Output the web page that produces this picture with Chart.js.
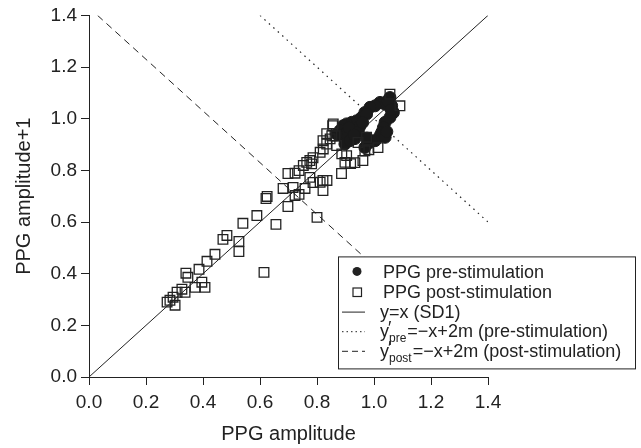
<!DOCTYPE html>
<html>
<head>
<meta charset="utf-8">
<script src="https://cdn.jsdelivr.net/npm/chart.js@4.4.1/dist/chart.umd.min.js"></script>
<style>
    html, body { margin: 0; padding: 0; background: #fff; }
    #wrap { width: 641px; height: 448px; }
</style>
</head>
<body>
<div id="wrap"><canvas id="poincare" width="641" height="448"></canvas></div>
<script>
// PPG pre-stimulation points (x = amplitude, y = amplitude+1)
var preX = [1.056, 1.039, 1.021, 1.004, 0.986, 0.968, 0.957, 0.939, 0.922, 0.904, 0.892, 0.881, 0.904, 0.922, 0.887,
    0.898, 1.062, 1.068, 1.056, 1.039, 1.033, 1.027, 1.021, 1.004, 0.986, 0.974, 1.039, 0.869, 0.933, 0.990,
    0.968, 0.950, 1.048, 0.916, 0.945, 0.960, 1.060, 1.045, 0.912, 0.930, 0.975]
var preY = [1.082, 1.056, 1.063, 1.050, 1.044, 1.024, 1.005, 0.992, 0.986, 0.980, 0.973, 0.954, 0.947, 0.954, 0.934,
    0.902, 1.050, 1.024, 1.005, 0.986, 0.966, 0.947, 0.934, 0.915, 0.908, 1.018, 0.928, 0.941, 0.923, 0.915,
    0.889, 0.970, 1.070, 0.915, 0.950, 0.985, 1.035, 0.950, 0.965, 0.938, 0.925]

// PPG post-stimulation points
var postX = [0.274, 0.284, 0.295, 0.302, 0.309, 0.326, 0.337, 0.340, 0.347, 0.372, 0.396, 0.407, 0.386, 0.414,
    0.442, 0.470, 0.484, 0.526, 0.526, 0.540, 0.589, 0.621, 0.625, 0.614, 0.656, 0.698, 0.800, 0.681, 0.716,
    0.723, 0.737, 0.698, 0.723, 0.737, 0.758, 0.786, 0.775, 0.821, 0.835, 0.821, 0.811, 0.752, 0.764, 0.781,
    0.786, 0.775, 0.811, 0.822, 0.834, 0.846, 0.834, 0.855, 0.852, 0.863, 0.821, 0.886, 0.887, 0.898, 0.904,
    0.918, 0.933, 0.961, 0.982, 1.014, 0.968, 0.944, 0.974, 1.056, 1.091, 0.869, 0.857]
var postY = [0.290, 0.297, 0.309, 0.278, 0.328, 0.340, 0.328, 0.402, 0.386, 0.347, 0.367, 0.347, 0.417, 0.448,
    0.475, 0.533, 0.548, 0.525, 0.486, 0.595, 0.625, 0.691, 0.699, 0.405, 0.591, 0.660, 0.618, 0.730, 0.734,
    0.703, 0.707, 0.788, 0.789, 0.799, 0.730, 0.753, 0.773, 0.761, 0.761, 0.722, 0.754, 0.819, 0.831, 0.825,
    0.849, 0.838, 0.870, 0.883, 0.902, 0.922, 0.942, 0.973, 0.934, 0.934, 0.915, 0.788, 0.864, 0.831, 0.857,
    0.826, 0.830, 0.838, 0.880, 0.888, 0.876, 0.908, 0.928, 1.095, 1.050, 0.896, 0.980]

// reference lines: y=x, y'=-x+2m (pre), y'=-x+2m (post)
var identityX = [0, 1.4]
var identityY = [0, 1.4]
var preLineX = [0.6, 1.4]
var preLineY = [1.4, 0.6]
var postLineX = [0.03, 1.43]
var postLineY = [1.4, 0]

var ticks = [0, 0.2, 0.4, 0.6, 0.8, 1.0, 1.2, 1.4]

var legendRows = [
    { kind: 'circle', text: 'PPG pre-stimulation' },
    { kind: 'square', text: 'PPG post-stimulation' },
    { kind: 'line', dash: [], text: 'y=x (SD1)' },
    { kind: 'line', dash: [1.5, 3], text: 'y', sub: 'pre', rest: '=\u2212x+2m (pre-stimulation)' },
    { kind: 'line', dash: [6, 4], text: 'y', sub: 'post', rest: '=\u2212x+2m (post-stimulation)' }
]

var FONT = "'Liberation Sans', Arial, Helvetica, sans-serif"
var INK = '#222'

var toPoints = function (xs, ys) {
    return xs.map(function (x, i) {
        return { x: x, y: ys[i] }
    })
}

// legend box drawn over the plot, with white background
var legendBox = {
    id: 'legendBox',
    afterDraw: function (chart) {
        var ctx = chart.ctx
        var area = chart.chartArea
        var left = area.left + 249
        var top = area.top + 241
        var w = 297
        var h = 112

        ctx.save()
        ctx.fillStyle = '#fff'
        ctx.fillRect(left, top, w, h)
        ctx.strokeStyle = INK
        ctx.lineWidth = 1
        ctx.strokeRect(left + 0.5, top + 0.5, w, h)

        ctx.fillStyle = INK
        ctx.textBaseline = 'alphabetic'
        legendRows.forEach(function (row, i) {
            var cy = top + 15 + i * 19.6
            var mx = left + 19
            ctx.save()
            if (row.kind === 'circle') {
                ctx.beginPath()
                ctx.arc(mx, cy, 4.5, 0, Math.PI * 2)
                ctx.fill()
            } else if (row.kind === 'square') {
                ctx.lineWidth = 1.2
                ctx.strokeRect(mx - 4, cy - 3, 8.5, 8.5)
            } else {
                ctx.lineWidth = 1
                ctx.setLineDash(row.dash)
                ctx.beginPath()
                ctx.moveTo(left + 4, cy + 1.5)
                ctx.lineTo(left + 27, cy + 1.5)
                ctx.stroke()
            }
            ctx.restore()

            var base = cy + 7
            var tx = row.kind === 'line' ? left + 42 : left + 45
            ctx.font = '18px ' + FONT
            ctx.fillText(row.text, tx, base)
            if (row.sub) {
                tx += ctx.measureText(row.text).width
                ctx.fillText('\u2032', tx - 1, base - 3)
                ctx.font = '12px ' + FONT
                ctx.fillText(row.sub, tx, base + 5)
                tx += ctx.measureText(row.sub).width + 1
                ctx.font = '18px ' + FONT
                ctx.fillText(row.rest, tx, base)
            }
        })
        ctx.restore()
    }
}

var axis = function (title, fit) {
    return {
        type: 'linear',
        min: 0,
        max: 1.4,
        afterBuildTicks: function (scale) {
            scale.ticks = ticks.map(function (v) { return { value: v } })
        },
        afterFit: fit,
        grid: {
            display: true,
            drawOnChartArea: false,
            drawTicks: true,
            tickLength: 8,
            color: INK,
            lineWidth: 1
        },
        border: { display: true, color: INK, width: 1 },
        ticks: {
            color: INK,
            font: { family: FONT, size: 19 },
            padding: 4,
            callback: function (v) { return Number(v).toFixed(1) }
        },
        title: {
            display: true,
            text: title,
            color: INK,
            font: { family: FONT, size: 20 }
        }
    }
}

var xAxis = axis('PPG amplitude', function (scale) { scale.height = 71 })
xAxis.ticks.padding = 6
xAxis.title.padding = { top: 0, bottom: 2 }

var yAxis = axis('PPG amplitude+1', function (scale) { scale.width = 89 })
yAxis.title.padding = { top: 12, bottom: 0 }

new Chart(document.getElementById('poincare').getContext('2d'), {
    type: 'scatter',
    plugins: [legendBox],
    data: {
        datasets: [{
            label: 'PPG post-stimulation',
            data: toPoints(postX, postY),
            pointStyle: 'rect',
            pointRadius: 6.8,
            backgroundColor: 'rgba(0,0,0,0)',
            borderColor: INK,
            borderWidth: 1.3,
            order: 1
        }, {
            label: 'PPG pre-stimulation',
            data: toPoints(preX, preY),
            pointStyle: 'circle',
            pointRadius: 6,
            backgroundColor: '#1a1a1a',
            borderColor: '#1a1a1a',
            borderWidth: 1,
            order: 2
        }, {
            label: 'y=x (SD1)',
            data: toPoints(identityX, identityY),
            showLine: true,
            pointRadius: 0,
            borderColor: INK,
            borderWidth: 1,
            order: 3
        }, {
            label: 'pre',
            data: toPoints(preLineX, preLineY),
            showLine: true,
            pointRadius: 0,
            borderColor: INK,
            borderWidth: 1.2,
            borderDash: [1.5, 4.5],
            order: 4
        }, {
            label: 'post',
            data: toPoints(postLineX, postLineY),
            showLine: true,
            pointRadius: 0,
            borderColor: INK,
            borderWidth: 1,
            borderDash: [7, 5],
            order: 5
        }]
    },
    options: {
        responsive: false,
        animation: false,
        layout: {
            padding: { top: 14, right: 153, bottom: 0, left: 0 }
        },
        plugins: {
            legend: { display: false },
            tooltip: { enabled: false }
        },
        scales: {
            x: xAxis,
            y: yAxis
        }
    }
})
</script>
</body>
</html>
